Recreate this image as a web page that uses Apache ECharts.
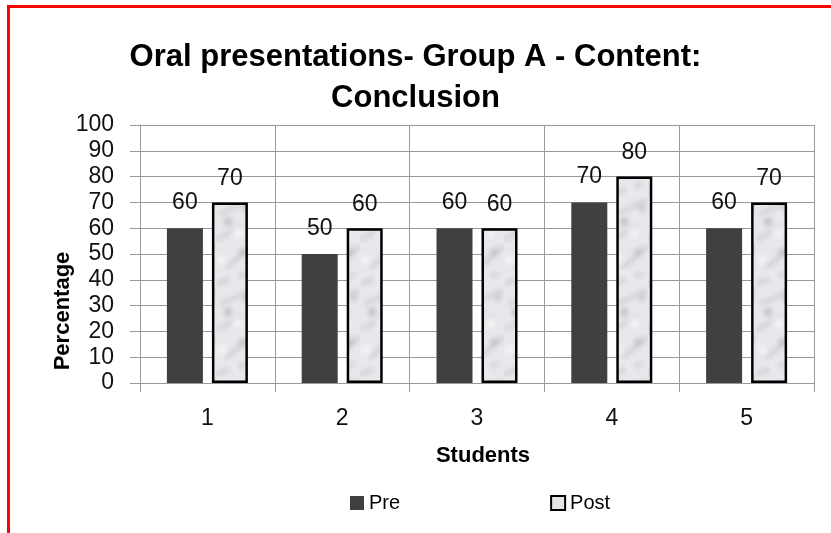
<!DOCTYPE html>
<html>
<head>
<meta charset="utf-8">
<script src="https://cdn.jsdelivr.net/npm/echarts@6/dist/echarts.min.js"></script>
<style>
  html, body { margin: 0; padding: 0; background: #fff; }
  #frame { position: absolute; left: 7px; top: 5px; right: -10px; bottom: -10px;
           border-left: 3px solid #f00; border-top: 3px solid #f00; }
  #chart { position: absolute; left: 0; top: 0; width: 831px; height: 533px; }
</style>
</head>
<body>
<div id="chart"></div>
<div id="frame"></div>
<script>
// Scores per student, before and after the intervention
const students = ['1', '2', '3', '4', '5'];
const preScores = [60, 50, 60, 70, 60];
const postScores = [70, 60, 60, 80, 70];
const seriesNames = ['Pre', 'Post'];

const FONT = '"Liberation Sans", Arial, sans-serif';

// Soft marbled fill for the "Post" bars
function marbleTexture() {
  const c = document.createElement('canvas');
  c.width = 36; c.height = 90;
  const g = c.getContext('2d');
  g.fillStyle = '#e7e8eb';
  g.fillRect(0, 0, 36, 90);
  g.filter = 'blur(2.5px)';
  g.strokeStyle = 'rgba(160,162,168,0.45)';
  g.lineWidth = 3;
  const streaks = [[0, 14, 30, 4], [4, 34, 36, 20], [0, 60, 26, 46], [10, 88, 36, 66]];
  streaks.forEach(s => { g.beginPath(); g.moveTo(s[0], s[1]); g.lineTo(s[2], s[3]); g.stroke(); });
  g.fillStyle = 'rgba(140,142,148,0.45)';
  [[12, 42, 4], [26, 72, 3], [30, 28, 3]].forEach(p => { g.beginPath(); g.arc(p[0], p[1], p[2], 0, Math.PI * 2); g.fill(); });
  g.fillStyle = 'rgba(250,250,252,0.6)';
  [[22, 52, 6], [6, 80, 5], [18, 8, 5]].forEach(p => { g.beginPath(); g.arc(p[0], p[1], p[2], 0, Math.PI * 2); g.fill(); });
  return c;
}
const postFill = { image: marbleTexture(), repeat: 'repeat' };

const chart = echarts.init(document.getElementById('chart'), null, { renderer: 'canvas' });
chart.setOption({
  animation: false,
  backgroundColor: '#fff',
  title: {
    text: 'Oral presentations- Group A - Content:\nConclusion',
    left: 'center',
    top: 32,
    textStyle: { fontFamily: FONT, fontWeight: 'bold', fontSize: 31, lineHeight: 41, color: '#000' }
  },
  graphic: [{
    type: 'text',
    x: 52, y: 311,
    rotation: Math.PI / 2,
    style: {
      text: 'Percentage', fontFamily: FONT, fontWeight: 'bold', fontSize: 22,
      fill: '#000', align: 'center', verticalAlign: 'top'
    }
  }, {
    type: 'text',
    x: 483, y: 445,
    style: {
      text: 'Students', fontFamily: FONT, fontWeight: 'bold', fontSize: 22,
      fill: '#000', align: 'center', verticalAlign: 'top'
    }
  }],
  legend: {
    top: 488,
    left: 345,
    itemGap: 150,
    itemWidth: 14,
    itemHeight: 14,
    itemStyle: { borderWidth: 0 },
    textStyle: { fontFamily: FONT, fontSize: 20, color: '#000' },
    data: [
      { name: seriesNames[0], icon: 'rect' },
      { name: seriesNames[1], icon: 'rect', itemStyle: { color: '#e6e7ea', borderColor: '#000', borderWidth: 2 } }
    ]
  },
  grid: { left: 140, right: 17, top: 125, bottom: 150 },
  xAxis: {
    type: 'category',
    data: students,
    axisLine: { lineStyle: { color: '#999', width: 1 } },
    axisTick: { show: true, length: 9, lineStyle: { color: '#999' } },
    splitLine: { show: true, lineStyle: { color: '#999', width: 1 } },
    axisLabel: { margin: 24, fontFamily: FONT, fontSize: 23, color: '#111' }
  },
  yAxis: {
    type: 'value',
    min: 0, max: 100, interval: 10,
    axisLine: { show: true, lineStyle: { color: '#999', width: 1 } },
    axisTick: { show: true, length: 10, lineStyle: { color: '#999' } },
    splitLine: { show: true, lineStyle: { color: '#999', width: 1 } },
    axisLabel: { margin: 26, fontFamily: FONT, fontSize: 23, color: '#111' }
  },
  series: [
    {
      name: seriesNames[0],
      type: 'bar',
      data: preScores,
      barWidth: 36,
      barGap: '25%',
      itemStyle: { color: '#404040' },
      label: { show: true, position: 'top', distance: 14, fontFamily: FONT, fontSize: 23, color: '#111' }
    },
    {
      name: seriesNames[1],
      type: 'bar',
      data: postScores,
      barWidth: 36,
      itemStyle: { color: postFill, borderColor: '#000', borderWidth: 2.5 },
      label: { show: true, position: 'top', distance: 12, fontFamily: FONT, fontSize: 23, color: '#111' }
    }
  ]
});
</script>
</body>
</html>
